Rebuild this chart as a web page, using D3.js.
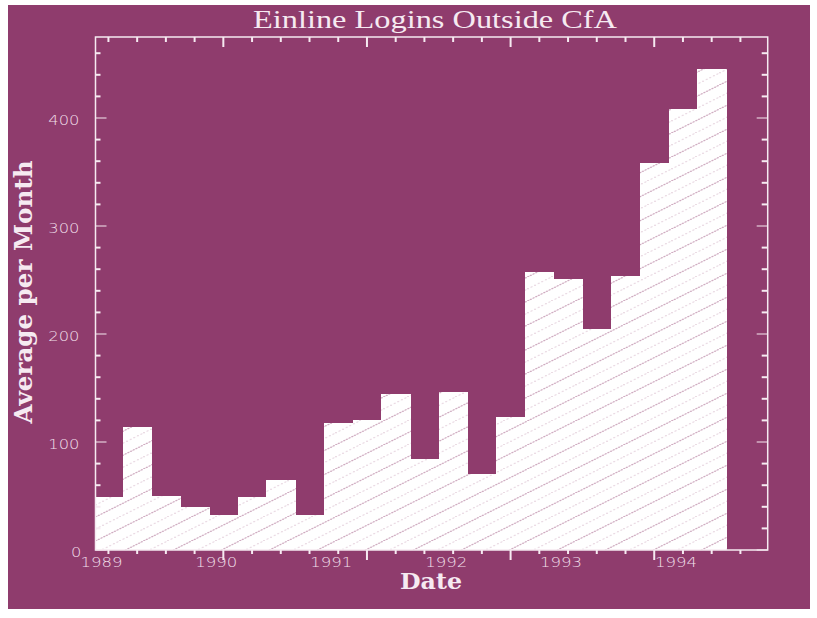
<!DOCTYPE html>
<html>
<head>
<meta charset="utf-8">
<script src="https://cdn.jsdelivr.net/npm/d3@7"></script>
<style>
  body { margin: 0; background: #ffffff; }
  #wrapper { width: 817px; height: 618px; }
</style>
</head>
<body>
<div id="wrapper"></div>
<script>
// quarterly averages
const quarters = ["1989 Q1", "1989 Q2", "1989 Q3", "1989 Q4",
                  "1990 Q1", "1990 Q2", "1990 Q3", "1990 Q4",
                  "1991 Q1", "1991 Q2", "1991 Q3", "1991 Q4",
                  "1992 Q1", "1992 Q2", "1992 Q3", "1992 Q4",
                  "1993 Q1", "1993 Q2", "1993 Q3", "1993 Q4",
                  "1994 Q1", "1994 Q2"]
const logins = [49, 114, 50, 40, 32, 49, 65, 32,
                118, 120, 144, 84, 146, 70, 123, 257,
                251, 205, 254, 358, 408, 445]
const yearLabels = ["1989", "1990", "1991", "1992", "1993", "1994"]
const yTickLabels = [0, 100, 200, 300, 400]

// month index counted from Jan 1989
const monthOf = q => (+q.slice(0, 4) - 1989) * 12 + (+q.slice(6) - 1) * 3
const xAccessor = (d, i) => monthOf(quarters[i])
const yAccessor = d => d

function draw() {
  let dimensions = {
    width: 817,
    height: 618,
    margin: { top: 37, right: 49.3, bottom: 68, left: 95.5 }
  }
  dimensions.boundedWidth = dimensions.width - dimensions.margin.left - dimensions.margin.right
  dimensions.boundedHeight = dimensions.height - dimensions.margin.top - dimensions.margin.bottom

  const bg = "#8f3c6d"
  const fg = "#f6eaf1"

  const wrapper = d3.select("#wrapper")
    .append("svg")
      .attr("width", dimensions.width)
      .attr("height", dimensions.height)

  wrapper.append("rect")
      .attr("x", 8).attr("y", 5)
      .attr("width", 802).attr("height", 604)
      .attr("fill", bg)

  // hatching that shows through the white bars
  const defs = wrapper.append("defs")
  const pat = defs.append("pattern")
      .attr("id", "hatch")
      .attr("patternUnits", "userSpaceOnUse")
      .attr("width", 48).attr("height", 24)
  pat.append("rect").attr("width", 48).attr("height", 24).attr("fill", "#ffffff")
  pat.append("line")
      .attr("x1", 0).attr("y1", 24).attr("x2", 48).attr("y2", 0)
      .attr("stroke", bg).attr("stroke-width", 1)
      .attr("stroke-dasharray", "1.5 1.5").attr("opacity", 0.85)
  pat.append("line")
      .attr("x1", 0).attr("y1", 12).attr("x2", 24).attr("y2", 0)
      .attr("stroke", bg).attr("stroke-width", 1)
      .attr("stroke-dasharray", "1 3").attr("opacity", 0.55)
  pat.append("line")
      .attr("x1", 24).attr("y1", 24).attr("x2", 48).attr("y2", 12)
      .attr("stroke", bg).attr("stroke-width", 1)
      .attr("stroke-dasharray", "1 3").attr("opacity", 0.55)

  const bounds = wrapper.append("g")
      .attr("transform", `translate(${dimensions.margin.left}, ${dimensions.margin.top})`)

  const xScale = d3.scaleLinear()
    .domain([-1.35, 68.85])
    .range([0, dimensions.boundedWidth])
  const yScale = d3.scaleLinear()
    .domain([0, 475])
    .range([dimensions.boundedHeight, 0])

  const left = (d, i) => xScale(Math.max(xAccessor(d, i) - 1.5, xScale.domain()[0]))

  // bars, one quarter wide
  bounds.selectAll("rect.bar")
    .data(logins)
    .enter()
    .append("rect")
      .attr("class", "bar")
      .attr("x", (d, i) => left(d, i))
      .attr("width", (d, i) => xScale(xAccessor(d, i) + 1.5) - left(d, i) + 0.6)
      .attr("y", d => yScale(yAccessor(d)))
      .attr("height", d => yScale(0) - yScale(yAccessor(d)))
      .attr("fill", "url(#hatch)")
      .attr("shape-rendering", "crispEdges")

  // frame
  bounds.append("rect")
      .attr("width", dimensions.boundedWidth)
      .attr("height", dimensions.boundedHeight)
      .attr("fill", "none")
      .attr("stroke", fg)
      .attr("stroke-width", 1.5)

  // y ticks, inside on both sides
  const yTicks = d3.range(0, 461, 20)
  const isMajorY = v => v % 100 === 0
  bounds.selectAll("line.yl")
    .data(yTicks)
    .enter()
    .append("line")
      .attr("x1", 0)
      .attr("x2", d => isMajorY(d) ? 11 : 5)
      .attr("y1", d => yScale(d)).attr("y2", d => yScale(d))
      .attr("stroke", fg).attr("stroke-width", d => isMajorY(d) ? 1 : 2)
  bounds.selectAll("line.yr")
    .data(yTicks)
    .enter()
    .append("line")
      .attr("x1", dimensions.boundedWidth)
      .attr("x2", d => dimensions.boundedWidth - (isMajorY(d) ? 11 : 6))
      .attr("y1", d => yScale(d)).attr("y2", d => yScale(d))
      .attr("stroke", fg).attr("stroke-width", d => isMajorY(d) ? 1 : 2)

  // x ticks every 3 months, longer every 15
  const xTicks = d3.range(0, 67, 3)
  const isMajorX = m => (m - 12) % 15 === 0
  bounds.selectAll("line.xt")
    .data(xTicks)
    .enter()
    .append("line")
      .attr("x1", d => xScale(d)).attr("x2", d => xScale(d))
      .attr("y1", 0)
      .attr("y2", d => isMajorX(d) ? 10 : 5)
      .attr("stroke", fg).attr("stroke-width", 2)
  bounds.selectAll("line.xb")
    .data(xTicks)
    .enter()
    .append("line")
      .attr("x1", d => xScale(d)).attr("x2", d => xScale(d))
      .attr("y1", dimensions.boundedHeight)
      .attr("y2", d => dimensions.boundedHeight + (isMajorX(d) ? 10 : 4))
      .attr("stroke", fg).attr("stroke-width", 2)

  // tick labels
  bounds.selectAll("text.ylab")
    .data(yTickLabels)
    .enter()
    .append("text")
      .attr("x", d => d === 0 ? -14 : -16)
      .attr("y", d => yScale(d) + 7)
      .attr("text-anchor", "end")
      .attr("font-family", "DejaVu Sans")
      .attr("font-size", 14)
      .attr("font-weight", 300)
      .attr("fill", "#efdfe9")
      .attr("textLength", d => String(d).length * 10.4)
      .attr("lengthAdjust", "spacingAndGlyphs")
      .text(d => d)

  bounds.selectAll("text.xlab")
    .data(yearLabels)
    .enter()
    .append("text")
      .attr("x", d => xScale((+d - 1989) * 12) - 7)
      .attr("y", dimensions.boundedHeight + 17)
      .attr("text-anchor", "middle")
      .attr("font-family", "DejaVu Sans")
      .attr("font-size", 13.5)
      .attr("font-weight", 300)
      .attr("fill", "#efdfe9")
      .attr("textLength", 42)
      .attr("lengthAdjust", "spacingAndGlyphs")
      .text(d => d)

  // titles
  wrapper.append("text")
      .attr("x", 435)
      .attr("y", 28)
      .attr("text-anchor", "middle")
      .attr("font-family", "Liberation Serif")
      .attr("font-size", 26)
      .attr("fill", fg)
      .attr("textLength", 364)
      .attr("lengthAdjust", "spacingAndGlyphs")
      .text("Einline Logins Outside CfA")

  wrapper.append("text")
      .attr("x", 431)
      .attr("y", 589)
      .attr("text-anchor", "middle")
      .attr("font-family", "DejaVu Serif")
      .attr("font-weight", "bold")
      .attr("font-size", 22)
      .attr("fill", fg)
      .attr("textLength", 62)
      .attr("lengthAdjust", "spacingAndGlyphs")
      .text("Date")

  wrapper.append("text")
      .attr("transform", "translate(31.5, 292) rotate(-90)")
      .attr("text-anchor", "middle")
      .attr("font-family", "DejaVu Serif")
      .attr("font-weight", "bold")
      .attr("font-size", 25)
      .attr("fill", fg)
      .attr("textLength", 263)
      .attr("lengthAdjust", "spacingAndGlyphs")
      .text("Average per Month")
}

draw()
</script>
</body>
</html>
